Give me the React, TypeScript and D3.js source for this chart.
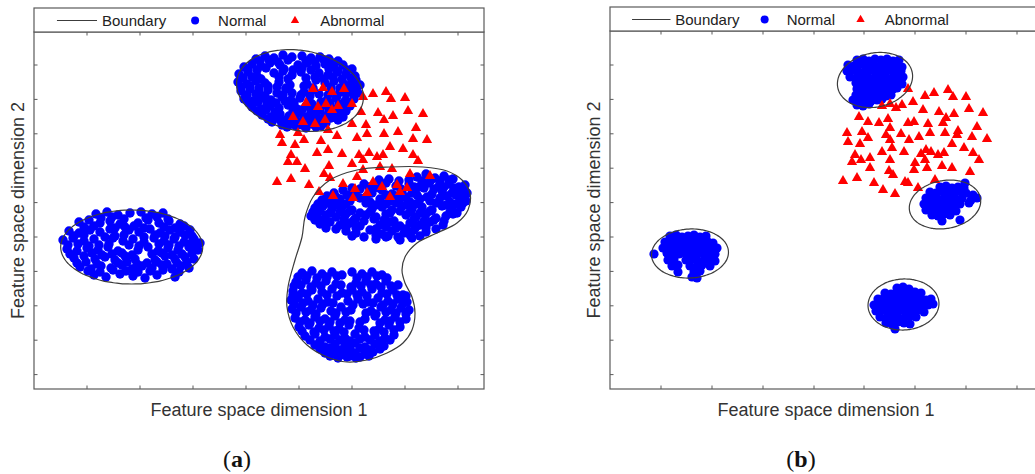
import React from 'react';
import * as d3 from 'd3';

type Pt = [number, number];
type Ell = { cx: number; cy: number; rx: number; ry: number; rot: number };

const legendLabels = ['Boundary', 'Normal', 'Abnormal'];
const xTitle = 'Feature space dimension 1';
const yTitle = 'Feature space dimension 2';
const panelTags = ['a', 'b'];

const xTicksA = [53, 106, 159, 212, 265, 318, 371, 424];
const xTicksB = [51, 102, 153, 204, 254, 305, 356, 407];
const yTicks = [14.4, 48.8, 83.2, 117.6, 152, 186.4, 220.8, 255.2, 289.6, 324];

// ---------- Panel (a) ----------
const normalA_left: Pt[] = [
  [62,175],[73,177],[84,174],[96,176],[107,177],[118,175],[129,176],
  [45,167],[55,169],[66,166],[76,168],[86,165],[104,166],[114,169],[125,166],[135,168],[146,165],
  [35,158],[45,156],[56,159],[66,157],[76,160],[95,159],[105,157],[116,160],[126,156],[136,159],[146,157],[156,159],
  [29,149],[39,151],[50,148],[60,150],[79,151],[89,148],[99,150],[110,147],[120,151],[130,148],[140,150],[150,147],[160,150],[166,146],
  [33,140],[43,138],[53,141],[64,139],[74,142],[84,138],[104,139],[114,142],[124,138],[134,141],[144,139],[155,142],[164,139],
  [40,131],[50,133],[61,130],[71,132],[81,129],[91,133],[101,130],[121,129],[131,133],[141,130],[151,132],[160,130],
  [46,122],[57,120],[67,123],[77,121],[88,124],[98,120],[108,123],[118,121],[128,124],[138,120],[147,123],[155,121],
  [60,114],[72,112],[86,115],[99,113],[111,111],[123,114],[141,112]
];
const normalA_leftFill: Pt[] = [
  [67,171],[78,172],[90,170],[112,171],[123,172],[134,170],
  [50,162],[60,163],[81,161],[91,162],[100,163],[110,161],[130,162],[141,161],[150,163],
  [40,153],[50,154],[71,152],[81,153],[90,154],[110,152],[121,154],[131,153],[141,152],[151,154],[158,153],
  [34,144],[44,145],[55,143],[65,144],[75,145],[95,144],[105,143],[125,145],[135,144],[145,143],[155,145],[162,144],
  [36,135],[58,136],[68,134],[78,135],[88,136],[98,134],[118,135],[128,136],[138,134],[148,135],[158,136],
  [43,126],[52,127],[63,125],[84,126],[93,127],[103,125],[113,126],[123,127],[133,125],[143,126],[153,127],
  [54,118],[66,117],[79,119],[92,118],[104,117],[116,118],[129,119],[145,117]
];
const normalA_top: Pt[] = [
  [222,330],[231,333],[240,331],[249,334],[258,332],[268,333],[277,331],[286,332],[295,330],[304,328],
  [210,322],[218,325],[227,323],[236,326],[246,324],[264,324],[273,326],[282,323],[291,325],[300,322],[309,324],[318,320],
  [205,315],[214,317],[223,313],[240,316],[249,318],[258,314],[267,317],[285,316],[294,314],[303,317],[312,315],[321,313],
  [204,307],[213,305],[222,308],[231,306],[245,307],[256,304],[273,305],[282,309],[291,306],[300,308],[310,305],[318,307],[326,304],
  [207,298],[216,300],[225,297],[234,299],[243,296],[252,300],[270,297],[279,299],[297,299],[306,297],[315,299],[324,296],
  [210,290],[219,288],[228,291],[237,289],[248,292],[257,289],[266,291],[275,288],[293,289],[302,291],[311,288],[320,290],
  [218,282],[227,280],[236,283],[245,281],[254,284],[263,280],[272,283],[281,281],[290,284],[299,280],[308,282],[316,283],
  [228,274],[237,272],[246,275],[255,273],[264,276],[273,272],[282,275],[291,273],[300,276],[309,272],
  [238,267],[247,268],[256,265],[265,267],[274,265],[283,267],[292,266],
  [253,262],[262,263],[272,261],[282,262]
];
const normalA_topFill: Pt[] = [
  [226,328],[235,329],[244,327],[254,329],[272,328],[281,327],[290,329],[299,326],
  [214,320],[223,319],[232,321],[250,320],[259,319],[268,321],[277,319],[295,320],[304,318],[313,319],
  [209,311],[218,312],[227,310],[245,312],[254,310],[272,311],[281,312],[290,310],[299,312],[308,310],[317,311],[322,309],
  [207,302],[216,303],[225,301],[234,303],[243,302],[252,301],[270,303],[279,301],[297,302],[306,301],[315,303],[322,300],
  [213,294],[222,295],[231,293],[249,294],[258,296],[267,294],[276,293],[285,295],[294,294],[303,293],[312,295],[320,294],
  [215,286],[224,287],[233,285],[242,286],[251,288],[260,286],[278,285],[287,287],[296,286],[305,285],[314,287],
  [223,278],[232,279],[241,277],[259,278],[268,279],[277,277],[286,279],[295,278],[304,277],[312,278],
  [234,270],[243,271],[252,269],[261,270],[270,271],[279,269],[288,270],[297,271],[304,269],
  [248,264],[258,265],[268,264],[278,265],[287,263]
];
const normalA_lobeUpper: Pt[] = [
  [383,212],[392,215],[401,211],[410,213],[419,210],
  [330,205],[340,202],[352,206],[362,203],[375,205],[385,202],[395,206],[405,203],[415,205],[425,202],[431,204],
  [300,196],[309,199],[318,195],[338,196],[348,199],[358,195],[368,198],[378,196],[398,195],[408,198],[418,196],[428,198],[433,196],
  [288,189],[297,187],[306,190],[316,188],[326,191],[336,187],[346,190],[356,188],[366,191],[376,187],[386,190],[396,188],[406,191],[416,187],[426,190],[432,188],
  [281,181],[289,183],[298,180],[308,182],[318,179],[338,180],[348,182],[358,179],[368,183],[378,180],[388,182],[398,179],[408,183],[418,180],[427,182],
  [277,173],[284,171],[292,174],[302,172],[312,175],[322,171],[332,174],[342,172],[352,175],[372,174],[382,172],[392,175],[402,171],[412,173],[419,175],
  [286,165],[296,167],[306,164],[316,166],[326,163],[346,164],[356,167],[366,163],[376,166],[386,164],[396,167],[409,164],
  [312,158],[322,156],[336,159],[348,155],[358,158],[370,156],[380,159],[392,157],
  [342,150],[352,152],[366,149],[378,151]
];
const normalA_upperFill: Pt[] = [
  [345,209],[355,210],[365,208],[375,209],[388,208],[397,209],[406,208],[415,209],
  [318,201],[326,200],[335,202],[345,201],[367,200],[380,202],[390,201],[400,200],[410,202],[420,201],[429,200],
  [293,193],[302,192],[313,194],[322,193],[332,192],[352,194],[362,193],[372,192],[383,194],[393,192],[413,193],[422,194],[431,192],
  [284,185],[293,186],[302,184],[312,185],[332,186],[342,184],[352,185],[362,186],[372,184],[382,185],[402,186],[412,184],[422,185],[429,186],
  [279,177],[286,178],[296,176],[306,177],[316,178],[326,176],[336,177],[356,176],[366,178],[376,177],[386,176],[396,178],[416,177],[423,176],
  [281,169],[290,168],[310,170],[320,169],[330,168],[340,170],[350,169],[360,168],[380,170],[390,168],[400,169],[410,168],
  [292,161],[302,160],[312,162],[322,161],[342,160],[352,162],[362,161],[372,160],[382,162],[392,161],[402,160],
  [318,153],[330,152],[342,154],[354,153],[364,152],[376,154],[386,153]
];
const normalA_lobeLower: Pt[] = [
  [268,116],[278,118],[288,115],[298,117],[308,114],[318,117],[328,115],[338,117],[348,114],
  [262,107],[272,109],[282,106],[292,108],[302,105],[322,106],[332,108],[342,105],[352,108],[359,99],[369,94],
  [259,98],[268,96],[278,99],[288,97],[298,100],[308,96],[318,99],[328,97],[338,100],[348,96],
  [257,89],[264,91],[274,88],[284,90],[294,87],[314,88],[324,90],[334,87],[344,91],[354,88],[364,90],[373,87],
  [258,80],[267,82],[277,79],[287,81],[297,78],[307,82],[317,79],[337,78],[347,82],[357,79],[367,81],[375,79],
  [261,71],[271,69],[281,72],[291,70],[301,73],[311,69],[331,70],[341,73],[351,69],[361,72],[372,70],
  [265,62],[275,64],[285,61],[295,63],[305,60],[315,64],[325,61],[345,60],[355,64],[366,62],
  [271,53],[281,55],[291,52],[301,54],[311,51],[321,55],[331,52],[341,54],[351,51],[360,54],
  [281,44],[291,42],[301,45],[311,43],[321,46],[331,42],[341,45],[350,43],
  [291,36],[301,37],[311,35],[321,36],[331,35],[339,37],
  [304,31],[313,32],[322,31]
];
const normalA_lowerFill: Pt[] = [
  [264,112],[273,113],[283,111],[293,112],[303,113],[323,111],[333,112],[343,113],[353,111],
  [260,103],[267,104],[277,102],[287,103],[307,104],[317,102],[327,103],[337,104],[347,102],[357,103],[364,104],
  [259,94],[263,93],[273,95],[293,94],[303,93],[313,95],[323,94],[333,93],[353,95],[363,94],[372,93],
  [260,85],[269,86],[279,84],[289,85],[299,86],[319,84],[329,85],[339,86],[349,84],[359,85],[369,86],
  [262,76],[272,77],[282,75],[302,76],[312,77],[332,76],[342,75],[352,77],[362,76],[372,75],
  [266,67],[276,66],[286,68],[296,67],[306,66],[316,68],[326,67],[346,66],[356,68],[366,67],
  [268,58],[280,57],[290,59],[300,58],[310,57],[330,59],[340,58],[350,57],[360,59],
  [276,49],[286,48],[296,50],[306,49],[316,48],[326,50],[336,49],[346,48],[356,49],
  [286,40],[296,41],[306,39],[316,40],[326,41],[336,39],[346,40],
  [296,33],[306,34],[316,33],[326,32],[335,33]
];
const abnormalA: Pt[] = [
  [279,300],[289,301],[298,297],[310,300],[272,286],[284,282],[292,285],[304,283],[298,279],
  [329,292],[339,295],[352,297],[357,290],[371,291],[318,285],[327,277],[344,276],[359,273],[374,278],[389,275],
  [259,272],[269,267],[281,265],[291,269],[318,265],[332,264],[350,269],
  [246,254],[248,246],[264,256],[270,249],[261,244],[294,259],[303,253],[287,248],[323,251],[333,255],[350,255],[364,257],[382,261],[379,250],[393,249],
  [283,236],[294,239],[308,235],[257,234],[254,227],[263,227],[325,234],[329,229],[335,236],[343,232],[349,234],[356,242],[369,240],[379,234],[384,228],
  [271,220],[295,223],[318,225],[329,219],[346,222],[358,220],[376,215],[290,215],[296,211],[243,207],[257,210],[275,204],[285,197],[309,205],[323,212],[321,200],[339,207],[348,202],[363,204],[373,201],[396,213],
  [299,193],[319,191],[356,192],[333,196],[366,197]
];
const boundaryA_ellipses: Ell[] = [
  { cx: 97.7, cy: 142, rx: 71, ry: 37, rot: 0 },
  { cx: 266, cy: 298.5, rx: 64, ry: 40, rot: -10 }
];
const boundaryA_blob: Pt[] = [
  [271,172],[279,192],[296,209],[323,219],[356,222],[389,222],[413,218],[428,209],[436,196],[434,179],
  [423,166],[403,156],[383,146],[371,132],[368,119],[371,106],[378,92],[381,76],[378,59],[369,46],
  [353,36],[333,29],[313,27],[293,32],[273,44],[259,62],[253,82],[254,102],[261,129],[268,152]
];

// ---------- Panel (b) ----------
const normalB_top: Pt[] = [
  [247,329],[253,330],[259,328],[265,330],[271,329],[277,330],[283,328],[289,329],
  [238,324],[244,323],[250,325],[256,323],[262,324],[268,322],[274,325],[280,323],[286,324],[292,322],
  [237,318],[243,319],[249,317],[255,318],[261,319],[267,317],[273,318],[279,319],[285,317],[291,318],
  [240,312],[246,311],[252,313],[258,312],[264,311],[270,313],[276,312],[282,311],[288,313],[293,312],
  [246,306],[252,307],[258,305],[264,306],[270,307],[276,305],[282,306],[288,307],[292,305],
  [247,300],[253,301],[259,299],[265,300],[271,301],[277,299],[283,300],[287,301],
  [246,294],[252,295],[258,293],[264,294],[270,295],[276,293],[281,294],
  [243,289],[249,288],[255,289],[261,288],[267,289],[272,290],
  [247,284],[253,283],[259,285]
];
const normalB_right: Pt[] = [
  [355,206],[330,202],[336,203],[342,201],[348,202],[354,201],
  [320,197],[326,196],[332,198],[338,197],[344,196],[350,198],[356,196],[363,194],
  [316,191],[322,192],[328,190],[334,191],[340,192],[346,190],[352,191],[361,189],[367,191],
  [314,185],[320,186],[326,184],[332,185],[338,186],[344,184],[350,185],[359,186],
  [316,179],[322,180],[328,178],[334,179],[340,180],[346,178],
  [322,174],[328,173],[334,175],[340,174],
  [332,168],[350,169]
];
const normalB_left: Pt[] = [
  [60,153],[66,154],[72,152],[78,153],[84,154],[90,152],[96,153],
  [55,147],[61,148],[67,146],[73,147],[79,148],[85,146],[91,147],[97,148],[103,146],
  [53,141],[59,142],[65,140],[71,141],[77,142],[83,140],[89,141],[95,142],[101,140],[107,141],
  [44,135],[57,136],[63,134],[69,135],[75,136],[81,134],[87,135],[93,136],[99,134],[105,135],
  [58,129],[64,130],[76,129],[82,130],[88,128],[94,129],[100,130],[105,128],
  [62,123],[68,124],[80,123],[86,122],[92,124],[100,123],
  [68,117],[84,117],[90,118],
  [82,112],[87,111]
];
const normalB_bottom: Pt[] = [
  [287,101],[293,102],[299,100],
  [275,96],[281,95],[287,97],[293,96],[299,95],[305,97],[311,96],
  [268,90],[274,91],[280,89],[286,90],[292,91],[298,89],[304,90],[310,91],[316,89],[321,90],
  [264,84],[270,85],[276,83],[282,84],[288,85],[294,83],[300,84],[306,85],[312,83],[318,84],[323,85],
  [266,78],[272,79],[278,77],[284,78],[290,79],[296,77],[302,78],[308,79],[314,77],
  [270,72],[276,71],[282,73],[288,72],[294,71],[300,73],[306,72],
  [276,66],[282,65],[288,67],[294,66],[300,65],
  [285,60]
];
const abnormalB: Pt[] = [
  [298,300],[315,293],[324,296],[338,299],[343,292],[356,292],
  [272,283],[280,285],[286,281],[292,284],[303,287],[313,279],[329,277],[336,271],[344,275],[359,280],[373,276],
  [249,272],[258,267],[269,266],[278,270],[298,266],[304,267],[318,265],[333,266],[348,258],[367,262],
  [237,256],[238,247],[252,257],[250,245],[258,251],[276,254],[280,261],[280,249],[291,255],[299,249],[309,252],[320,256],[335,256],[347,254],[362,252],[377,250],
  [272,237],[282,241],[294,237],[311,235],[316,239],[321,237],[328,234],[334,236],[342,245],[354,241],[363,236],[369,229],
  [245,234],[242,227],[251,229],[260,231],[260,221],[280,229],[279,218],[283,214],[305,226],[304,219],[315,229],[317,221],[332,223],[342,221],[360,217],
  [233,208],[247,211],[264,206],[273,199],[285,195],[295,207],[308,201],[325,209],[298,206]
];
const boundaryB_ellipses: Ell[] = [
  { cx: 265, cy: 309, rx: 38, ry: 27, rot: 12 },
  { cx: 335, cy: 184.5, rx: 36, ry: 24, rot: 10 },
  { cx: 80, cy: 135.5, rx: 38.5, ry: 24.5, rot: 3 },
  { cx: 293.5, cy: 84.5, rx: 35.5, ry: 25.5, rot: 3 }
];

const FONT = '"Liberation Sans", Arial, Helvetica, sans-serif';
const BLUE = '#0000ff';
const RED = '#ff0000';
const BOUND = '#3c3c3c';
const FRAME = '#5a5a5a';
const TEXT = '#333333';

function ellipsePoints(e: Ell): Pt[] {
  const out: Pt[] = [];
  const a = (e.rot * Math.PI) / 180;
  const c = Math.cos(a), s = Math.sin(a);
  for (let i = 0; i < 120; i++) {
    const t = (i / 120) * 2 * Math.PI;
    const ex = e.rx * Math.cos(t), ey = e.ry * Math.sin(t);
    out.push([e.cx + ex * c - ey * s, e.cy + ex * s + ey * c]);
  }
  return out;
}

interface PanelProps {
  left: number; right: number; top: number; legendTop: number; bottom: number;
  xMax: number; yMax: number; xTicks: number[]; yTicks: number[];
  normal: Pt[]; abnormal: Pt[]; ellipses: Ell[]; blobs: Pt[][];
  tag: string; tagX: number; dotR: number;
}

function Panel(p: PanelProps) {
  const x = d3.scaleLinear().domain([0, p.xMax]).range([p.left, p.right]);
  const y = d3.scaleLinear().domain([0, p.yMax]).range([p.bottom, p.top]);
  const closed = d3.line<Pt>().x(d => x(d[0])).y(d => y(d[1])).curve(d3.curveCatmullRomClosed.alpha(0.5));
  const tri = d3.symbol(d3.symbolTriangle, 46)() as string;
  const triLegend = d3.symbol(d3.symbolTriangle, 30)() as string;
  const w = p.right - p.left;
  const lx = (f: number) => p.left + f * w;
  const legY = p.legendTop + 12.5;
  const tl = 3.5;
  const midY = (p.top + p.bottom) / 2;
  return (
    <g>
      <rect x={p.left} y={p.top} width={w} height={p.bottom - p.top} fill="none" stroke={FRAME} strokeWidth={1.2} />
      {p.xTicks.map((t, i) => (
        <g key={'xt' + i} stroke={FRAME} strokeWidth={1}>
          <line x1={x(t)} x2={x(t)} y1={p.bottom} y2={p.bottom - tl} />
          <line x1={x(t)} x2={x(t)} y1={p.top} y2={p.top + tl} />
        </g>
      ))}
      {p.yTicks.map((t, i) => (
        <g key={'yt' + i} stroke={FRAME} strokeWidth={1}>
          <line x1={p.left} x2={p.left + tl} y1={y(t)} y2={y(t)} />
          <line x1={p.right} x2={p.right - tl} y1={y(t)} y2={y(t)} />
        </g>
      ))}
      {p.normal.map((d, i) => (
        <circle key={'n' + i} cx={x(d[0])} cy={y(d[1])} r={p.dotR} fill={BLUE} />
      ))}
      {p.abnormal.map((d, i) => (
        <path key={'a' + i} d={tri} transform={`translate(${x(d[0])},${y(d[1])})`} fill={RED} />
      ))}
      {p.ellipses.map((e, i) => (
        <path key={'e' + i} d={closed(ellipsePoints(e)) as string} fill="none" stroke={BOUND} strokeWidth={1.2} />
      ))}
      {p.blobs.map((b, i) => (
        <path key={'b' + i} d={closed(b) as string} fill="none" stroke={BOUND} strokeWidth={1.2} />
      ))}
      <rect x={p.left} y={p.legendTop} width={w} height={p.top - p.legendTop} fill="white" stroke={FRAME} strokeWidth={1.2} />
      <line x1={lx(0.051)} x2={lx(0.14)} y1={legY} y2={legY} stroke={BOUND} strokeWidth={1.2} />
      <text x={lx(0.151)} y={legY + 5.5} fontFamily={FONT} fontSize={15} fill="#222">{legendLabels[0]}</text>
      <circle cx={lx(0.358)} cy={legY} r={4} fill={BLUE} />
      <text x={lx(0.409)} y={legY + 5.5} fontFamily={FONT} fontSize={15} fill="#222">{legendLabels[1]}</text>
      <path d={triLegend} transform={`translate(${lx(0.58)},${legY})`} fill={RED} />
      <text x={lx(0.636)} y={legY + 5.5} fontFamily={FONT} fontSize={15} fill="#222">{legendLabels[2]}</text>
      <text x={(p.left + p.right) / 2} y={416} textAnchor="middle" fontFamily={FONT} fontSize={18} fill={TEXT}>{xTitle}</text>
      <text transform={`translate(${p.left - 10},${midY}) rotate(-90)`} textAnchor="middle" fontFamily={FONT} fontSize={18} fill={TEXT}>{yTitle}</text>
      <text x={p.tagX} y={467} textAnchor="middle" fontFamily='"Liberation Serif", "Times New Roman", serif' fontSize={24} fill="#111">
        (<tspan fontWeight="bold">{p.tag}</tspan>)
      </text>
    </g>
  );
}

export default function App() {
  return (
    <svg width={1035} height={474} style={{ position: 'absolute', left: 0, top: 0, background: 'white' }}>
      <rect x={0} y={0} width={1035} height={474} fill="white" />
      <Panel left={34} right={484} top={32} legendTop={8} bottom={389} xMax={450} yMax={357}
        xTicks={xTicksA} yTicks={yTicks}
        normal={[...normalA_left, ...normalA_leftFill, ...normalA_top, ...normalA_topFill,
          ...normalA_lobeUpper, ...normalA_upperFill, ...normalA_lobeLower, ...normalA_lowerFill]}
        abnormal={abnormalA} ellipses={boundaryA_ellipses} blobs={[boundaryA_blob]}
        tag={panelTags[0]} tagX={237} dotR={4.7} />
      <Panel left={610} right={1042} top={31} legendTop={7} bottom={389} xMax={432} yMax={358}
        xTicks={xTicksB} yTicks={yTicks}
        normal={[...normalB_top, ...normalB_right, ...normalB_left, ...normalB_bottom]}
        abnormal={abnormalB} ellipses={boundaryB_ellipses} blobs={[]}
        tag={panelTags[1]} tagX={801} dotR={4.6} />
    </svg>
  );
}
